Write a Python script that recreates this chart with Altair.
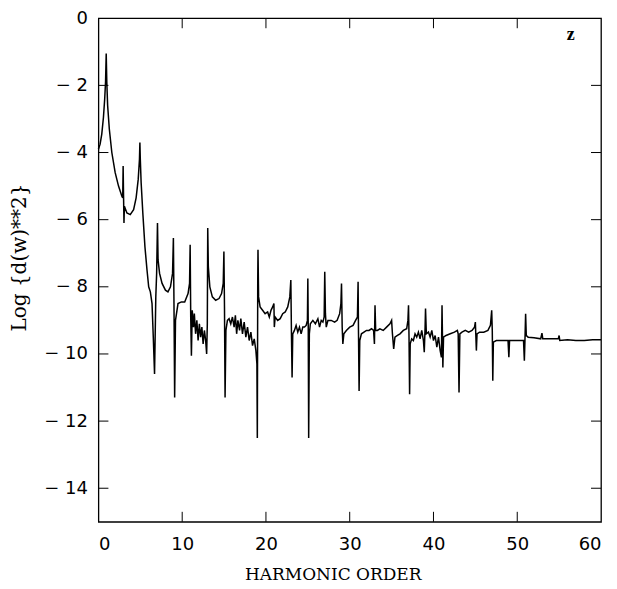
import altair as alt
import pandas as pd

# ---- data -------------------------------------------------------------------
harmonic = [
    0.0, 0.2, 0.4, 0.6, 0.75, 0.85, 0.93, 1.0, 1.1, 1.3, 1.6, 2.0, 2.4, 2.8, 2.9, 2.95, 3.0, 3.05, 3.1, 3.4,
    3.8, 4.2, 4.5, 4.75, 4.9, 4.95, 5.0, 5.1, 5.3, 5.55, 5.8, 6.0, 6.2, 6.4, 6.55, 6.7, 6.85, 6.95, 7.05, 7.12,
    7.3, 7.6, 8.0, 8.3, 8.6, 8.85, 8.95, 9.02, 9.1, 9.2, 9.5, 9.9, 10.3, 10.7, 10.88, 10.95, 11.02, 11.1, 11.2, 11.35,
    11.45, 11.6, 11.75, 11.9, 12.05, 12.2, 12.35, 12.5, 12.65, 12.8, 12.92, 13.0, 13.05, 13.12, 13.3, 13.6, 14.0, 14.4, 14.7, 14.9,
    14.98, 15.05, 15.12, 15.22, 15.4, 15.6, 15.8, 16.0, 16.2, 16.35, 16.5, 16.65, 16.85, 17.0, 17.2, 17.4, 17.6, 17.8, 18.0, 18.2,
    18.4, 18.6, 18.8, 18.92, 18.97, 19.02, 19.05, 19.12, 19.3, 19.6, 19.9, 20.2, 20.4, 20.6, 20.8, 20.95, 21.0, 21.1, 21.4, 21.7,
    22.0, 22.3, 22.6, 22.85, 22.97, 23.05, 23.12, 23.2, 23.4, 23.6, 23.8, 24.0, 24.2, 24.4, 24.6, 24.8, 24.95, 25.0, 25.05, 25.1,
    25.18, 25.3, 25.6, 25.9, 26.2, 26.4, 26.6, 26.8, 26.95, 27.02, 27.1, 27.2, 27.4, 27.8, 28.2, 28.5, 28.8, 28.95, 29.02, 29.1,
    29.18, 29.3, 29.6, 30.0, 30.4, 30.7, 30.92, 31.0, 31.05, 31.12, 31.2, 31.4, 31.7, 32.0, 32.3, 32.6, 32.85, 32.95, 33.02, 33.1,
    33.3, 33.6, 34.0, 34.4, 34.8, 35.0, 35.1, 35.25, 35.4, 35.7, 36.0, 36.4, 36.8, 36.95, 37.02, 37.08, 37.15, 37.22, 37.4, 37.6,
    37.8, 38.0, 38.2, 38.4, 38.6, 38.8, 38.9, 39.0, 39.05, 39.15, 39.4, 39.6, 39.8, 40.0, 40.2, 40.4, 40.6, 40.8, 40.95, 41.02,
    41.08, 41.12, 41.2, 41.5, 42.0, 42.5, 42.85, 42.95, 43.05, 43.15, 43.4, 43.8, 44.2, 44.6, 44.9, 45.0, 45.05, 45.12, 45.2, 45.5,
    46.0, 46.5, 46.8, 46.95, 47.02, 47.08, 47.15, 47.5, 48.0, 48.5, 48.9, 49.0, 49.08, 49.5, 50.0, 50.5, 50.75, 50.85, 50.92, 51.0,
    51.08, 51.3, 52.0, 52.8, 52.95, 53.05, 54.0, 54.9, 55.0, 55.08, 56.0, 57.0, 58.0, 59.0, 60.0,
]
log_d2 = [
    -3.9, -3.75, -3.45, -2.95, -2.4, -1.9, -1.05, -1.9, -2.6, -3.3, -4.0, -4.6, -5.0, -5.3, -5.35, -4.4, -5.3, -6.1, -5.6, -5.8,
    -5.85, -5.7, -5.35, -4.8, -4.2, -3.7, -4.2, -4.9, -5.8, -6.8, -7.5, -8.0, -8.15, -8.5, -9.5, -10.6, -8.3, -7.6, -6.1, -7.2,
    -7.6, -7.9, -8.1, -8.15, -8.0, -7.6, -6.55, -8.5, -11.3, -9.0, -8.5, -8.45, -8.45, -8.2, -7.9, -6.75, -8.9, -10.05, -8.7, -9.2,
    -8.8, -9.4, -9.0, -9.6, -9.1, -9.5, -9.2, -9.7, -9.3, -9.6, -10.0, -9.1, -6.25, -7.4, -8.0, -8.3, -8.4, -8.35, -8.2, -7.9,
    -6.95, -8.6, -11.3, -9.3, -9.0, -8.95, -9.1, -8.9, -9.2, -8.85, -9.4, -9.0, -9.3, -8.95, -9.4, -9.05, -9.5, -9.2, -9.6, -9.35,
    -9.75, -9.55, -9.9, -10.3, -12.5, -7.8, -6.9, -8.3, -8.6, -8.7, -8.8, -8.75, -8.9, -8.7, -8.6, -8.5, -9.2, -8.9, -9.0, -8.95,
    -8.8, -8.75, -8.6, -8.3, -7.8, -9.5, -10.7, -9.4, -9.3, -9.15, -9.35, -9.2, -9.4, -9.2, -9.2, -9.15, -9.0, -7.75, -9.2, -12.5,
    -9.4, -9.1, -9.0, -9.1, -8.95, -9.2, -9.0, -9.05, -8.9, -7.55, -8.8, -9.2, -9.0, -9.0, -9.05, -9.0, -8.8, -8.5, -7.9, -9.2,
    -9.7, -9.4, -9.3, -9.2, -9.15, -9.0, -8.9, -7.85, -9.4, -11.1, -9.6, -9.4, -9.35, -9.3, -9.3, -9.25, -9.3, -9.7, -8.55, -9.3,
    -9.3, -9.25, -9.3, -9.2, -9.1, -9.0, -9.4, -9.85, -9.5, -9.45, -9.4, -9.3, -9.25, -9.0, -8.55, -9.5, -11.2, -9.7, -9.55, -9.6,
    -9.4, -9.5, -9.35, -9.55, -9.3, -9.6, -9.95, -9.2, -8.65, -9.4, -9.35, -9.5, -9.3, -9.6, -9.45, -9.8, -9.5, -9.9, -10.1, -8.55,
    -9.6, -10.4, -9.5, -9.45, -9.4, -9.35, -9.3, -9.4, -11.15, -9.4, -9.35, -9.3, -9.35, -9.3, -9.2, -9.05, -9.4, -9.9, -9.4, -9.35,
    -9.35, -9.3, -9.15, -8.7, -9.3, -10.8, -9.65, -9.6, -9.6, -9.6, -9.6, -10.1, -9.6, -9.6, -9.6, -9.6, -9.6, -10.2, -9.6, -8.8,
    -9.45, -9.5, -9.52, -9.55, -9.38, -9.55, -9.55, -9.55, -9.45, -9.6, -9.58, -9.6, -9.6, -9.58, -9.58,
]
x_tick_values = [0, 10, 20, 30, 40, 50, 60]
y_tick_values = [0, -2, -4, -6, -8, -10, -12, -14]
inner_x_ticks = [10, 20, 30, 40, 50]
inner_y_ticks = [-2, -4, -6, -8, -10, -12, -14]
panel_label = ["z"]
panel_label_x = [56.4]
panel_label_y = [-0.5]

W, H = 503, 504
TICK = 10

df = pd.DataFrame({"h": harmonic, "v": log_d2})
xt = pd.DataFrame({"h": inner_x_ticks})
yt = pd.DataFrame({"v": inner_y_ticks})
ann = pd.DataFrame({"h": panel_label_x, "v": panel_label_y, "t": panel_label})

x_scale = alt.Scale(domain=[0, 60], nice=False, zero=False)
y_scale = alt.Scale(domain=[-15, 0], nice=False, zero=False)

x_axis = alt.Axis(values=x_tick_values, title="HARMONIC ORDER", labelPadding=14,
                  titlePadding=13, titleFontSize=17, format="d", titleX=234.5)
y_axis = alt.Axis(values=y_tick_values, title="Log {d(w)**2}", labelPadding=11,
                  titlePadding=14, titleFontSize=20, titleY=239,
                  labelExpr="datum.value < 0 ? '\u2212 ' + format(-datum.value, 'd') : format(datum.value, 'd')")

X = alt.X("h:Q", scale=x_scale, axis=x_axis)
Y = alt.Y("v:Q", scale=y_scale, axis=y_axis)

line = alt.Chart(df).mark_line(color="black", strokeWidth=1.5).encode(x=X, y=Y)

left_ticks = alt.Chart(yt).mark_rule(color="black", strokeWidth=1).encode(
    y=Y, x=alt.value(0), x2=alt.value(TICK))
right_ticks = alt.Chart(yt).mark_rule(color="black", strokeWidth=1).encode(
    y=Y, x=alt.value(W - TICK), x2=alt.value(W))
bottom_ticks = alt.Chart(xt).mark_rule(color="black", strokeWidth=1).encode(
    x=X, y=alt.value(H), y2=alt.value(H - TICK))
top_ticks = alt.Chart(xt).mark_rule(color="black", strokeWidth=1).encode(
    x=X, y=alt.value(0), y2=alt.value(TICK))

label = alt.Chart(ann).mark_text(font="Liberation Serif", fontWeight="bold",
                                 fontSize=18, color="black").encode(
    x=X, y=Y, text="t:N")

chart = alt.layer(line, left_ticks, right_ticks, bottom_ticks, top_ticks, label).properties(
    width=W, height=H,
    autosize=alt.AutoSizeParams(type="none"),
    padding={"left": 90.5, "top": 10, "right": 8, "bottom": 66},
    background="white",
).configure_view(
    stroke="black", strokeWidth=1.3
).configure_axis(
    grid=False, domain=False, ticks=False,
    labelFont="DejaVu Sans", labelFontSize=18, labelColor="black",
    titleFont="DejaVu Serif", titleFontWeight="normal",
    titleColor="black",
)

chart.save("out.html", embed_options={"renderer": "svg", "actions": False})
